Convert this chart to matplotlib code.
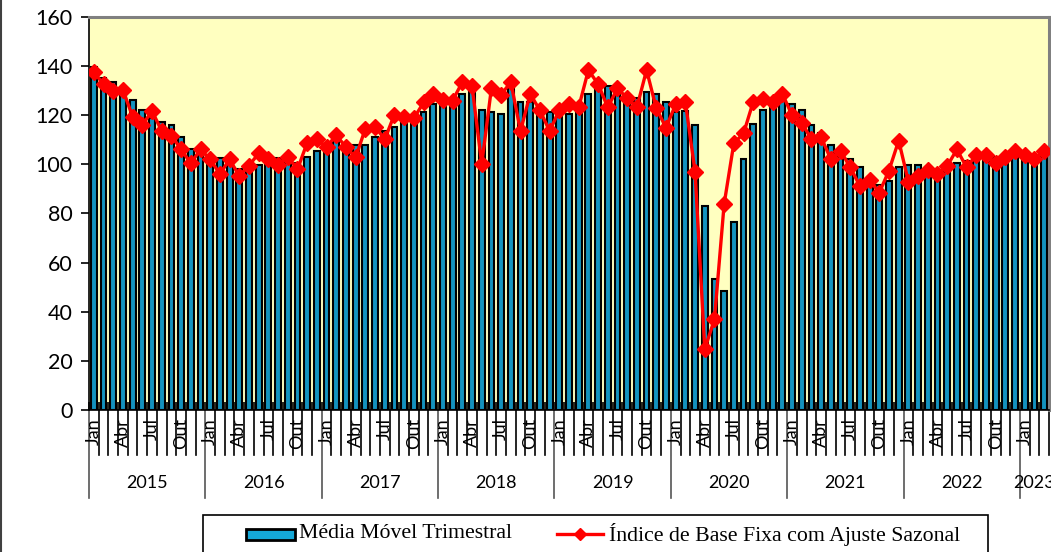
import matplotlib
matplotlib.use("Agg")
import matplotlib.pyplot as plt
from matplotlib.patches import Rectangle
from matplotlib.lines import Line2D

years = ["2015", "2016", "2017", "2018", "2019", "2020", "2021", "2022", "2023"]
month_names = ["Jan", "Fev", "Mar", "Abr", "Mai", "Jun", "Jul", "Ago", "Set", "Out", "Nov", "Dez"]
shown_months = ["Jan", "Abr", "Jul", "Out"]

media_movel = [
    139.5, 135.3, 133.7, 130.0, 126.2, 122.1, 118.8, 117.1, 116.2, 111.3, 106.3, 106.0,
    102.5, 102.5, 100.5, 98.1, 97.7, 99.8, 100.4, 102.5, 101.0, 100.7, 103.2, 105.6,
    105.2, 110.2, 105.5, 107.9, 107.9, 111.3, 113.7, 115.4, 117.0, 117.0, 121.2, 124.6,
    124.2, 124.2, 128.6, 130.0, 122.1, 121.2, 120.4, 131.0, 125.3, 125.3, 120.8, 121.2,
    119.2, 120.5, 121.8, 128.5, 131.2, 131.9, 128.3, 126.5, 126.9, 129.5, 128.6, 125.3,
    121.2, 121.9, 116.0, 83.0, 53.2, 48.5, 76.7, 102.0, 116.3, 122.1, 124.2, 128.5,
    124.6, 122.0, 116.2, 112.6, 107.9, 105.9, 102.2, 98.8, 95.0, 91.6, 93.2, 98.9,
    99.8, 99.8, 99.1, 97.7, 99.8, 100.7, 101.5, 102.0, 102.5, 103.2, 102.5, 103.2,
    102.5, 102.9, 103.8,
]

indice_sazonal = [
    137.6, 132.6, 130.0, 130.3, 119.4, 116.0, 121.7, 113.6, 111.7, 106.1, 100.4, 106.1,
    102.0, 96.1, 102.0, 95.3, 99.5, 104.5, 102.0, 99.8, 103.2, 98.0, 108.8, 110.2,
    107.1, 111.9, 107.0, 102.8, 114.6, 115.4, 110.2, 120.3, 119.4, 118.7, 125.2, 128.5,
    126.1, 126.0, 133.5, 131.9, 100.2, 131.0, 128.4, 133.5, 113.6, 128.7, 122.0, 113.6,
    122.0, 124.4, 123.2, 138.4, 132.7, 123.2, 131.0, 126.9, 123.2, 138.4, 122.8, 115.0,
    124.4, 125.4, 97.0, 24.8, 36.9, 83.9, 108.6, 112.6, 125.5, 126.6, 125.5, 128.7,
    120.1, 117.0, 110.2, 111.0, 102.2, 105.6, 98.8, 91.2, 93.6, 88.5, 97.5, 109.7,
    93.0, 95.3, 97.7, 96.1, 99.3, 106.1, 98.8, 103.8, 103.8, 100.4, 102.9, 105.6,
    103.7, 102.0, 105.5,
]

n = len(media_movel)
x = list(range(n))

W, H = 1051, 552
fig = plt.figure(figsize=(W / 100, H / 100), dpi=100)
fig.patch.set_facecolor("white")

L, R, B, T = 89, 1049, 410, 17
ax = fig.add_axes([L / W, 1 - B / H, (R - L) / W, (B - T) / H])
ax.set_facecolor("#FFFFC0")

ax.bar(x, media_movel, width=0.6, color="#1493BE", edgecolor="black", linewidth=1.5, zorder=2)
ax.plot(x, indice_sazonal, color="#FF0000", linewidth=2.4, marker="D", markersize=8,
        markerfacecolor="#FF0000", markeredgecolor="#FF0000", zorder=3)

ax.set_xlim(-0.5, n - 0.5)
ax.set_ylim(0, 160)
ax.set_yticks(range(0, 161, 20))
ax.tick_params(axis="y", direction="out", length=6, width=1.2, pad=6, labelsize=15.5, colors="black")
for lab in ax.get_yticklabels():
    lab.set_fontfamily("Lato")

for s in ["top", "right"]:
    ax.spines[s].set_color("#808080")
    ax.spines[s].set_linewidth(2.2)
for s in ["left", "bottom"]:
    ax.spines[s].set_color("black")
    ax.spines[s].set_linewidth(1.2)

# x axis: ticks at month boundaries, small inward ticks
bounds = [i - 0.5 for i in range(n + 1)]
ax.set_xticks(bounds)
ax.set_xticklabels([])
ax.tick_params(axis="x", direction="in", length=6, width=1.2, colors="black")

trans = ax.get_xaxis_transform()
ph = B - T
for i, b in enumerate(bounds):
    is_year = (i % 12 == 0)
    depth = 88 if is_year else 45
    col = "#555555" if is_year else "black"
    ax.add_line(Line2D([b, b], [0, -depth / ph], transform=trans, color=col,
                       linewidth=1.2, clip_on=False))

for i in range(n):
    m = month_names[i % 12]
    if m in shown_months:
        ax.text(i, -8 / ph, m, transform=trans, rotation=90, ha="center", va="top",
                fontsize=13, fontfamily="Lato", color="black", clip_on=False)

for k, yr in enumerate(years):
    start = 12 * k
    end = min(12 * k + 12, n)
    cx = (start + end - 1) / 2
    ax.text(cx, -73 / ph, yr, transform=trans, ha="center", va="center",
            fontsize=13, fontfamily="Lato", color="black", clip_on=False)

# outer left border of chart area
fig.add_artist(Line2D([1 / W, 1 / W], [0, 1], transform=fig.transFigure, color="#404040", linewidth=1.5))

# legend box
fig.add_artist(Rectangle((203 / W, -0.05), (988 - 203) / W, 0.05 + (H - 515) / H,
                         transform=fig.transFigure, facecolor="white", edgecolor="black",
                         linewidth=1.2))
fig.add_artist(Rectangle((246 / W, 1 - 540 / H), (295 - 246) / W, 11 / H,
                         transform=fig.transFigure, facecolor="#14A8D8", edgecolor="black",
                         linewidth=2.0))
fig.text(299 / W, 1 - 534 / H, "Média Móvel Trimestral", ha="left", va="center",
         fontsize=15.7, fontfamily="Liberation Serif", color="black")
fig.add_artist(Line2D([557 / W, 603 / W], [1 - 534 / H, 1 - 534 / H], transform=fig.transFigure,
                      color="#FF0000", linewidth=2.4))
fig.add_artist(Line2D([580 / W], [1 - 534 / H], transform=fig.transFigure, color="#FF0000",
                      marker="D", markersize=6, linestyle="none"))
fig.text(609 / W, 1 - 534 / H, "Índice de Base Fixa com Ajuste Sazonal", ha="left", va="center",
         fontsize=15.7, fontfamily="Liberation Serif", color="black")

fig.savefig("out.png", dpi=100)
